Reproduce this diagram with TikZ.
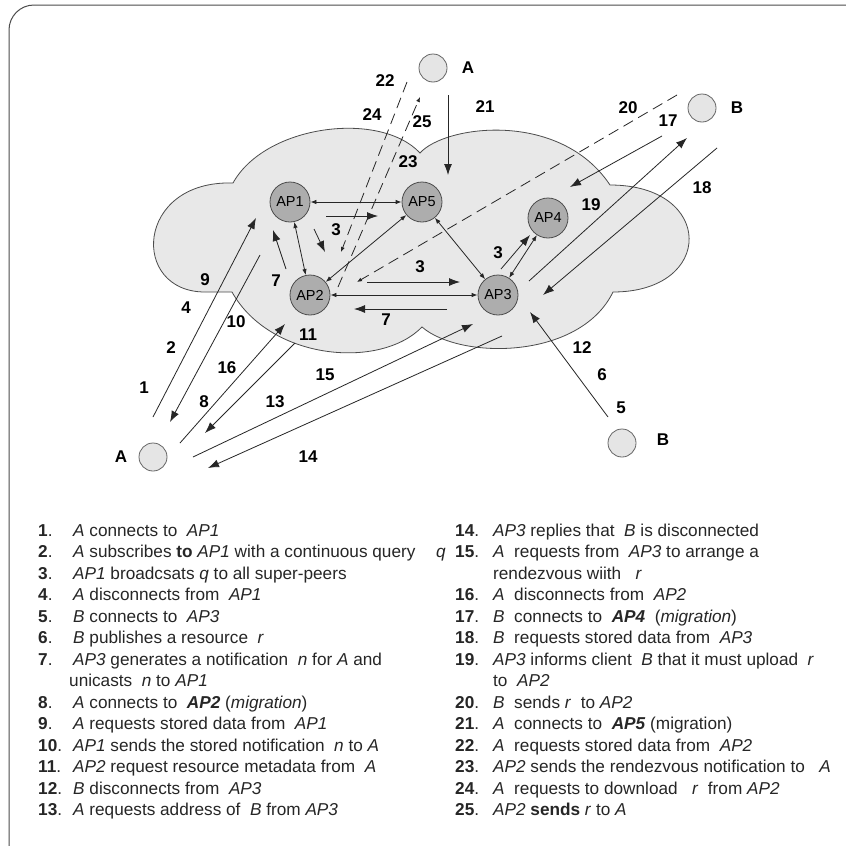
\documentclass[tikz,border=0pt]{standalone}
\usepackage{fontspec}
\setmainfont{Liberation Sans}
\usetikzlibrary{arrows.meta}
\newcommand{\myit}[1]{\textit{#1}}
\newcommand{\mybi}[1]{\textbf{\textit{#1}}}
\begin{document}
\begin{tikzpicture}[x=1pt,y=-1pt,
  ln/.style={draw=black!85, line width=0.8pt},
  big/.style={ln,-{Latex[length=11pt,width=8pt]}},
  sm/.style={ln,{Latex[length=6pt,width=4.5pt]}-{Latex[length=6pt,width=4.5pt]}},
  smend/.style={ln,-{Latex[length=5pt,width=4pt]}},
  dsh/.style={dash pattern=on 11pt off 6pt},
  ap/.style={circle, draw=black!70, fill=black!32, line width=0.8pt, minimum size=40pt, inner sep=0pt, font=\fontsize{14.5}{14.5}\selectfont},
  cl/.style={circle, draw=black!60, fill=black!10, line width=0.8pt, minimum size=28pt, inner sep=0pt},
  lab/.style={font=\bfseries\fontsize{17}{17}\selectfont, inner sep=0pt},
  txt/.style={anchor=base west, inner sep=0pt, text=black!85, font=\fontsize{17.2}{17.2}\selectfont},
  cloud/.style={fill=black!9, draw=black!70, line width=0.8pt}
]
\useasboundingbox (0,0) rectangle (846,846);
\clip (0,0) rectangle (846,846);
\fill[white] (0,0) rectangle (846,846);
\draw[black!70, line width=1pt, rounded corners=25pt] (9,5) rectangle (880,880);

% cloud
\path[cloud] (233,183) .. controls (265,125) and (380,110) .. (420,153)
  .. controls (445,125) and (560,110) .. (610,185)
  .. controls (715,185) and (715,292) .. (613,292)
  .. controls (580,360) and (460,360) .. (422,327)
  .. controls (380,370) and (270,360) .. (232,292)
  -- (205,292) .. controls (130,292) and (135,180) .. cycle;

% super-peers
\node[ap] (ap1) at (290,202) {AP1};
\node[ap] (ap5) at (422,202) {AP5};
\node[ap] (ap2) at (310,295) {AP2};
\node[ap] (ap3) at (498,295) {AP3};
\node[ap] (ap4) at (548,218) {AP4};

% clients
\node[cl] (at) at (433,68) {};
\node[cl] (bt) at (702,108) {};
\node[cl] (ab) at (153,457) {};
\node[cl] (bb) at (622,443) {};
\node[lab] (lat) at (468,68) {A};
\node[lab] (lbt) at (737,108) {B};
\node[lab] (lab) at (121,457) {A};
\node[lab] (lbb) at (663,440) {B};

% free ends
\coordinate (c21a) at (448,95);   \coordinate (c21b) at (448,175);
\coordinate (c22a) at (407,82);   \coordinate (c22b) at (341,252);
\coordinate (c23a) at (338,287);  \coordinate (c23b) at (420,97);
\coordinate (c20a) at (677,95);   \coordinate (c20b) at (357,282);
\coordinate (c17a) at (662,136);  \coordinate (c17b) at (570,187);
\coordinate (c19a) at (529,281);  \coordinate (c19b) at (687,138);
\coordinate (c18a) at (717,148);  \coordinate (c18b) at (543,295);
\coordinate (c34a) at (501,269);  \coordinate (c34b) at (530,235);
\coordinate (c3aa) at (326,216);  \coordinate (c3ab) at (378,216);
\coordinate (c3ba) at (314,229);  \coordinate (c3bb) at (325,252);
\coordinate (c7aa) at (286,269);  \coordinate (c7ab) at (273,230);
\coordinate (c3ca) at (367,282);  \coordinate (c3cb) at (460,282);
\coordinate (c7ba) at (447,309);  \coordinate (c7bb) at (354,309);
\coordinate (c5a) at (608,417);   \coordinate (c5b) at (530,312);
\coordinate (c1a) at (153,417);   \coordinate (c1b) at (256,218);
\coordinate (c2a) at (260,255);   \coordinate (c2b) at (170,422);
\coordinate (c8a) at (180,443);   \coordinate (c8b) at (285,324);
\coordinate (c11a) at (295,343);  \coordinate (c11b) at (205,433);
\coordinate (c15a) at (193,457);  \coordinate (c15b) at (473,324);
\coordinate (c13a) at (502,336);  \coordinate (c13b) at (208,468);

% connectors between super-peers
\draw[sm] (ap1) -- (ap5);
\draw[sm] (ap1) -- (ap2);
\draw[sm] (ap5) -- (ap2);
\draw[sm] (ap5) -- (ap3);
\draw[sm] (ap2) -- (ap3);
\draw[sm] (ap4) -- (ap3);

% messages
\draw[big] (c21a) -- (c21b);
\draw[smend,dsh] (c22a) -- (c22b);
\draw[smend,dsh] (c23a) -- (c23b);
\draw[smend,dsh] (c20a) -- (c20b);
\draw[big] (c17a) -- (c17b);
\draw[big] (c19a) -- (c19b);
\draw[big] (c18a) -- (c18b);
\draw[big] (c34a) -- (c34b);
\draw[big] (c3aa) -- (c3ab);
\draw[big] (c3ba) -- (c3bb);
\draw[big] (c7aa) -- (c7ab);
\draw[big] (c3ca) -- (c3cb);
\draw[big] (c7ba) -- (c7bb);
\draw[big] (c5a) -- (c5b);
\draw[big] (c1a) -- (c1b);
\draw[big] (c2a) -- (c2b);
\draw[big] (c8a) -- (c8b);
\draw[big] (c11a) -- (c11b);
\draw[big] (c15a) -- (c15b);
\draw[big] (c13a) -- (c13b);

% labels
\node[lab] (l22) at (385,81) {22};
\node[lab] (l24) at (372,115) {24};
\node[lab] (l25) at (422,122) {25};
\node[lab] (l23) at (408,162) {23};
\node[lab] (l21) at (485,107) {21};
\node[lab] (l20) at (628,108) {20};
\node[lab] (l17) at (668,121) {17};
\node[lab] (l19) at (591,205) {19};
\node[lab] (l18) at (702,188) {18};
\node[lab] (l3d) at (498,253) {3};
\node[lab] (l3a) at (336,230) {3};
\node[lab] (l3c) at (420,267) {3};
\node[lab] (l7a) at (276,281) {7};
\node[lab] (l7b) at (386,320) {7};
\node[lab] (l12) at (582,348) {12};
\node[lab] (l6) at (602,375) {6};
\node[lab] (l5) at (621,408) {5};
\node[lab] (l9) at (205,280) {9};
\node[lab] (l4) at (186,308) {4};
\node[lab] (l2) at (171,348) {2};
\node[lab] (l1) at (144,388) {1};
\node[lab] (l10) at (236,322) {10};
\node[lab] (l16) at (227,368) {16};
\node[lab] (l8) at (204,402) {8};
\node[lab] (l11) at (308,335) {11};
\node[lab] (l13) at (275,402) {13};
\node[lab] (l15) at (325,375) {15};
\node[lab] (l14) at (308,457) {14};

% legend, column 1
\node[txt] (n1) at (38,536) {\textbf{1}.};
\node[txt] (t1) at (73,536) {\myit{A} connects to \ \myit{AP1}};
\node[txt] (n2) at (38,557.5) {\textbf{2}.};
\node[txt] (t2) at (73,557.5) {\myit{A} subscribes \textbf{to} \myit{AP1} with a continuous query};
\node[txt] (tq) at (436,557.5) {\myit{q}};
\node[txt] (n3) at (38,579) {\textbf{3}.};
\node[txt] (t3) at (73,579) {\myit{AP1} broadcsats \myit{q} to all super-peers};
\node[txt] (n4) at (38,600.5) {\textbf{4}.};
\node[txt] (t4) at (73,600.5) {\myit{A} disconnects from \ \myit{AP1}};
\node[txt] (n5) at (38,622) {\textbf{5}.};
\node[txt] (t5) at (73,622) {\myit{B} connects to \ \myit{AP3}};
\node[txt] (n6) at (38,643.5) {\textbf{6}.};
\node[txt] (t6) at (73,643.5) {\myit{B} publishes a resource \ \myit{r}};
\node[txt] (n7) at (38,665) {\textbf{7}.};
\node[txt] (t7) at (73,665) {\myit{AP3} generates a notification \ \myit{n} for \myit{A} and};
\node[txt] (t7b) at (69,686.5) {unicasts \ \myit{n} to \myit{AP1}};
\node[txt] (n8) at (38,708) {\textbf{8}.};
\node[txt] (t8) at (73,708) {\myit{A} connects to \ \mybi{AP2} (\myit{migration})};
\node[txt] (n9) at (38,729.5) {\textbf{9}.};
\node[txt] (t9) at (73,729.5) {\myit{A} requests stored data from \ \myit{AP1}};
\node[txt] (n10) at (38,751) {\textbf{10}.};
\node[txt] (t10) at (73,751) {\myit{AP1} sends the stored notification \ \myit{n} to \myit{A}};
\node[txt] (n11) at (38,772.5) {\textbf{11}.};
\node[txt] (t11) at (73,772.5) {\myit{AP2} request resource metadata from \ \myit{A}};
\node[txt] (n12) at (38,794) {\textbf{12}.};
\node[txt] (t12) at (73,794) {\myit{B} disconnects from \ \myit{AP3}};
\node[txt] (n13) at (38,815.5) {\textbf{13}.};
\node[txt] (t13) at (73,815.5) {\myit{A} requests address of \ \myit{B} from \myit{AP3}};

% legend, column 2
\node[txt] (n14) at (455,536) {\textbf{14}.};
\node[txt] (t14) at (493,536) {\myit{AP3} replies that \ \myit{B} is disconnected};
\node[txt] (n15) at (455,557.5) {\textbf{15}.};
\node[txt] (t15) at (493,557.5) {\myit{A} \ requests from \ \myit{AP3} to arrange a};
\node[txt] (t15b) at (493,579) {rendezvous wiith \ \ \myit{r}};
\node[txt] (n16) at (455,600.5) {\textbf{16}.};
\node[txt] (t16) at (493,600.5) {\myit{A} \ disconnects from \ \myit{AP2}};
\node[txt] (n17) at (455,622) {\textbf{17}.};
\node[txt] (t17) at (493,622) {\myit{B} \ connects to \ \mybi{AP4} \ (\myit{migration})};
\node[txt] (n18) at (455,643.5) {\textbf{18}.};
\node[txt] (t18) at (493,643.5) {\myit{B} \ requests stored data from \ \myit{AP3}};
\node[txt] (n19) at (455,665) {\textbf{19}.};
\node[txt] (t19) at (493,665) {\myit{AP3} informs client \ \myit{B} that it must upload \ \myit{r}};
\node[txt] (t19b) at (493,686.5) {to \ \myit{AP2}};
\node[txt] (n20) at (455,708) {\textbf{20}.};
\node[txt] (t20) at (493,708) {\myit{B} \ sends \myit{r} \ to \myit{AP2}};
\node[txt] (n21) at (455,729.5) {\textbf{21}.};
\node[txt] (t21) at (493,729.5) {\myit{A} \ connects to \ \mybi{AP5} (migration)};
\node[txt] (n22) at (455,751) {\textbf{22}.};
\node[txt] (t22) at (493,751) {\myit{A} \ requests stored data from \ \myit{AP2}};
\node[txt] (n23) at (455,772.5) {\textbf{23}.};
\node[txt] (t23) at (493,772.5) {\myit{AP2} sends the rendezvous notification to \ \ \myit{A}};
\node[txt] (n24) at (455,794) {\textbf{24}.};
\node[txt] (t24) at (493,794) {\myit{A} \ requests to download \ \ \myit{r} \ from \myit{AP2}};
\node[txt] (n25) at (455,815.5) {\textbf{25}.};
\node[txt] (t25) at (493,815.5) {\myit{AP2} \textbf{sends} \myit{r} to \myit{A}};
\end{tikzpicture}
\end{document}
